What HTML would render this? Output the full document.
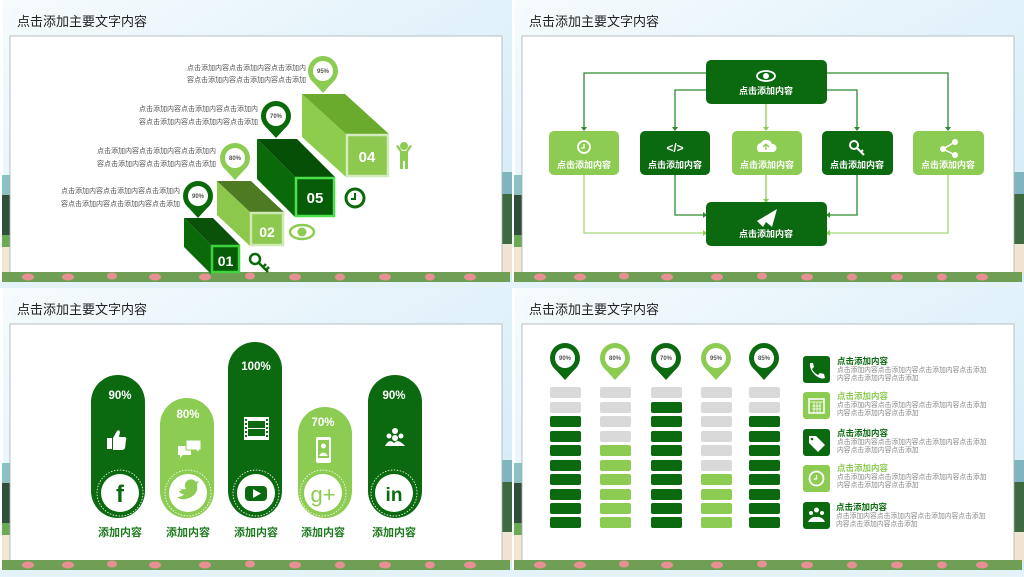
<!DOCTYPE html>
<html><head><meta charset="utf-8"><style>
html,body{margin:0;padding:0;background:#e6f4fb}
svg{display:block}
text{font-family:"Liberation Sans","Noto Sans CJK SC",sans-serif}
</style></head><body>
<svg width="1024" height="577" viewBox="0 0 1024 577" xmlns="http://www.w3.org/2000/svg">
<defs>
<linearGradient id="sky" x1="0" y1="0" x2="1" y2="1">
<stop offset="0" stop-color="#f6fbfd"/><stop offset="0.5" stop-color="#e2f2fa"/><stop offset="1" stop-color="#cfeaf7"/>
</linearGradient>
<g id="bg">
<rect x="0" y="0" width="512" height="288" fill="url(#sky)"/>
<rect x="0" y="0" width="3" height="288" fill="#ffffff"/>
<rect x="2" y="175" width="10" height="20" fill="#8cc3c0"/>
<rect x="2" y="195" width="10" height="40" fill="#2e5038"/>
<rect x="2" y="235" width="10" height="12" fill="#6aaa55"/>
<rect x="2" y="247" width="10" height="28" fill="#f2e6d3"/>
<rect x="501" y="172" width="11" height="22" fill="#80b5c0"/>
<rect x="501" y="194" width="11" height="50" fill="#3d6a40"/>
<rect x="501" y="244" width="11" height="30" fill="#efe4d2"/>
<rect x="10" y="36" width="492" height="238" fill="#ffffff" stroke="#a9b0b3" stroke-width="0.8"/>
<rect x="2" y="272" width="508" height="10" fill="#6f9f55"/>
<g fill="#e88f94">
<ellipse cx="28" cy="277" rx="6" ry="3.5"/><ellipse cx="68" cy="277" rx="6" ry="3.5"/><ellipse cx="112" cy="276" rx="5" ry="3.5"/><ellipse cx="155" cy="277" rx="6" ry="3.5"/><ellipse cx="205" cy="277" rx="6" ry="3.5"/><ellipse cx="250" cy="276" rx="5" ry="3.5"/><ellipse cx="295" cy="277" rx="6" ry="3.5"/><ellipse cx="340" cy="277" rx="5" ry="3.5"/><ellipse cx="385" cy="277" rx="6" ry="3.5"/><ellipse cx="430" cy="277" rx="5" ry="3.5"/><ellipse cx="470" cy="277" rx="6" ry="3.5"/>
</g>
<rect x="0" y="282" width="512" height="6" fill="#e4f3fa"/>
<text x="17" y="26" font-size="13" fill="#222">点击添加主要文字内容</text>
</g>
</defs>

<use href="#bg" x="0" y="0"/><use href="#bg" x="512" y="0"/><use href="#bg" x="0" y="288"/><use href="#bg" x="512" y="288"/>

<!-- PANEL 1 -->
<g>
<polygon points="302,94 346,134 346,177 302,137" fill="#8dcc4d"/>
<polygon points="302,94 345,94 389,134 346,134" fill="#6aab2e"/>
<rect x="347" y="135" width="41" height="41" fill="#8dc84f" stroke="#d3ecbb" stroke-width="2.5"/>
<text x="367" y="162" font-size="15" font-weight="bold" fill="#fff" text-anchor="middle">04</text>

<polygon points="257,139 295,177 295,217 257,179" fill="#0a6a0a"/>
<polygon points="257,139 297,139 335,177 295,177" fill="#064f06"/>
<rect x="296" y="178" width="38" height="38" fill="#075d07" stroke="#4ce04c" stroke-width="2.5"/>
<text x="315" y="203" font-size="15" font-weight="bold" fill="#fff" text-anchor="middle">05</text>

<polygon points="217,181 250,212 250,246 217,215" fill="#8cc84c"/>
<polygon points="217,181 251,181 284,212 250,212" fill="#4d7a22"/>
<rect x="251" y="213" width="32" height="32" fill="#8dc84f" stroke="#cfe9b3" stroke-width="2.5"/>
<text x="267" y="237" font-size="14" font-weight="bold" fill="#fff" text-anchor="middle">02</text>

<polygon points="184,218 211,245 211,274 184,247" fill="#0a6a0a"/>
<polygon points="184,218 213,218 240,245 211,245" fill="#0a520a"/>
<rect x="212" y="246" width="27" height="26" fill="#075d07" stroke="#3fd23f" stroke-width="2.5"/>
<text x="225.5" y="266" font-size="14" font-weight="bold" fill="#fff" text-anchor="middle">01</text>

<g font-size="6" font-weight="bold" fill="#555" text-anchor="middle">
<path d="M312 81 L323 93 L334 81 Z" fill="#8dcc52"/><circle cx="323" cy="71" r="15" fill="#8dcc52"/><circle cx="323" cy="71" r="10" fill="#fff"/><text x="323" y="73">95%</text>
<path d="M265 126 L276 138 L287 126 Z" fill="#0a6a0a"/><circle cx="276" cy="116" r="15" fill="#0a6a0a"/><circle cx="276" cy="116" r="10" fill="#fff"/><text x="276" y="118">70%</text>
<path d="M224 168 L235 180 L246 168 Z" fill="#8dcc52"/><circle cx="235" cy="158" r="15" fill="#8dcc52"/><circle cx="235" cy="158" r="10" fill="#fff"/><text x="235" y="160">80%</text>
<path d="M187 206 L198 218 L209 206 Z" fill="#0a6a0a"/><circle cx="198" cy="196" r="15" fill="#0a6a0a"/><circle cx="198" cy="196" r="10" fill="#fff"/><text x="198" y="198">90%</text>
</g>
<g font-size="7" fill="#555" text-anchor="end">
<text x="306" y="70">点击添加内容点击添加内容点击添加内</text><text x="306" y="82">容点击添加内容点击添加内容点击添加</text>
<text x="258" y="111">点击添加内容点击添加内容点击添加内</text><text x="258" y="124">容点击添加内容点击添加内容点击添加</text>
<text x="216" y="153">点击添加内容点击添加内容点击添加内</text><text x="216" y="166">容点击添加内容点击添加内容点击添加</text>
<text x="180" y="193">点击添加内容点击添加内容点击添加内</text><text x="180" y="206">容点击添加内容点击添加内容点击添加</text>
</g>
<g fill="#8dcc52"><circle cx="404" cy="146" r="4"/><rect x="400" y="151" width="8" height="10"/><rect x="400" y="160" width="3" height="9"/><rect x="405" y="160" width="3" height="9"/><path d="M396 146 L400 152 L402 151 L398 145Z M412 146 L408 152 L406 151 L410 145Z"/></g>
<circle cx="355" cy="198" r="9" fill="none" stroke="#0a6a0a" stroke-width="3"/><path d="M355 193 V199 H351" stroke="#0a6a0a" stroke-width="2" fill="none"/>
<ellipse cx="302" cy="232" rx="12" ry="7" fill="none" stroke="#8dcc52" stroke-width="2.5"/><circle cx="302" cy="232" r="4.5" fill="#8dcc52"/>
<circle cx="255" cy="259" r="5" fill="none" stroke="#0a6a0a" stroke-width="2.5"/><path d="M258 262 L268 272 M263 267 L266 264 M266 270 L269 267" stroke="#0a6a0a" stroke-width="2.5"/>
</g>

<!-- PANEL 2 -->
<g transform="translate(512,0)">
<g fill="none" stroke-width="1.3">
<path d="M194 73 H72 V128" stroke="#2d8a2d"/><path d="M194 90 H163 V128" stroke="#2d8a2d"/>
<path d="M254 104 V128" stroke="#8dcc52"/>
<path d="M315 90 H345 V128" stroke="#2d8a2d"/><path d="M315 73 H436 V128" stroke="#2d8a2d"/>
<path d="M163 175 V215 H192" stroke="#2d8a2d"/><path d="M72 175 V233 H192" stroke="#a6d77a"/>
<path d="M254 175 V200" stroke="#8dcc52"/>
<path d="M345 175 V215 H317" stroke="#2d8a2d"/><path d="M436 175 V233 H317" stroke="#a6d77a"/>
</g>
<g fill="#2d8a2d"><path d="M69 127 L75 127 L72 131Z"/><path d="M160 127 L166 127 L163 131Z"/><path d="M342 127 L348 127 L345 131Z"/><path d="M433 127 L439 127 L436 131Z"/><path d="M191 212 L191 218 L195 215Z"/><path d="M318 212 L318 218 L314 215Z"/></g>
<g fill="#8dcc52"><path d="M251 127 L257 127 L254 131Z"/><path d="M251 199 L257 199 L254 203Z"/><path d="M191 230 L191 236 L195 233Z"/><path d="M318 230 L318 236 L314 233Z"/></g>

<rect x="194" y="60" width="121" height="44" rx="5" fill="#0b6a10"/>
<rect x="194" y="202" width="121" height="44" rx="5" fill="#0b6a10"/>
<rect x="37" y="131" width="70" height="44" rx="5" fill="#8dcc52"/>
<rect x="128" y="131" width="70" height="44" rx="5" fill="#0b6a10"/>
<rect x="220" y="131" width="70" height="44" rx="5" fill="#8dcc52"/>
<rect x="310" y="131" width="71" height="44" rx="5" fill="#0b6a10"/>
<rect x="401" y="131" width="71" height="44" rx="5" fill="#8dcc52"/>
<g font-size="9" font-weight="bold" fill="#fff" text-anchor="middle">
<text x="254" y="94">点击添加内容</text><text x="254" y="237">点击添加内容</text>
<text x="72" y="168">点击添加内容</text><text x="163" y="168">点击添加内容</text><text x="255" y="168">点击添加内容</text><text x="345" y="168">点击添加内容</text><text x="436" y="168">点击添加内容</text>
</g>
<ellipse cx="254" cy="76" rx="9" ry="5" fill="none" stroke="#fff" stroke-width="1.8"/><circle cx="254" cy="76" r="3" fill="#fff"/>
<path d="M245 221 L265 209 L260 227 L254 222 L251 227 Z" fill="#fff"/>
<circle cx="72" cy="147" r="6" fill="none" stroke="#fff" stroke-width="1.8"/><path d="M72 144 V148 H69" stroke="#fff" stroke-width="1.3" fill="none"/>
<text x="163" y="152" font-size="12" font-weight="bold" fill="#fff" text-anchor="middle">&lt;/&gt;</text>
<path d="M247 152 a5 5 0 0 1 2 -9 a6 6 0 0 1 11 1 a4 4 0 0 1 1 8 Z" fill="#fff"/><path d="M254 150 V145 M251 147 L254 144 L257 147" stroke="#8dcc52" stroke-width="1.3" fill="none"/>
<circle cx="342" cy="145" r="4" fill="none" stroke="#fff" stroke-width="2"/><path d="M345 148 L352 155 M349 152 L351 150" stroke="#fff" stroke-width="2"/>
<g fill="#fff"><circle cx="443" cy="142" r="3"/><circle cx="431" cy="149" r="3"/><circle cx="443" cy="155" r="3"/><path d="M431 149 L443 142 M431 149 L443 155" stroke="#fff" stroke-width="1.5"/></g>
</g>

<!-- PANEL 3 -->
<g transform="translate(0,288)">
<g>
<rect x="91" y="87" width="54" height="143" rx="27" fill="#0b6a10"/>
<rect x="160" y="110" width="54" height="120" rx="27" fill="#8dcc52"/>
<rect x="228" y="54" width="54" height="176" rx="27" fill="#0b6a10"/>
<rect x="298" y="119" width="54" height="111" rx="27" fill="#8dcc52"/>
<rect x="368" y="87" width="54" height="143" rx="27" fill="#0b6a10"/>
</g>
<g font-size="11.5" font-weight="bold" fill="#fff" text-anchor="middle">
<text x="120" y="111">90%</text><text x="188" y="130">80%</text><text x="256" y="82">100%</text><text x="323" y="138">70%</text><text x="394" y="111">90%</text>
</g>
<g fill="none" stroke="#fff" stroke-width="0.8" stroke-dasharray="1.5 1.5">
<circle cx="120" cy="205" r="23"/><circle cx="188" cy="205" r="23"/><circle cx="256" cy="205" r="23"/><circle cx="323" cy="205" r="23"/><circle cx="394" cy="205" r="23"/>
</g>
<g fill="#fff"><circle cx="120" cy="205" r="19"/><circle cx="188" cy="205" r="19"/><circle cx="256" cy="205" r="19"/><circle cx="323" cy="205" r="19"/><circle cx="394" cy="205" r="19"/></g>
<text x="120" y="214" font-size="24" font-weight="bold" fill="#0b6a10" text-anchor="middle">f</text>
<path d="M178 199 q4 3 8 2 q-3-5 2-9 q5-2 8 2 l3-1 -2 3 q2 10-8 14 q-7 3-12-1 q5 0 7-3 q-4 0-5-3 q2 0 3-1 q-4-2-4-4z" fill="#8dcc52"/>
<rect x="245" y="198" width="22" height="15" rx="4" fill="#0b6a10"/><path d="M253 201 L261 205.5 L253 210Z" fill="#fff"/>
<text x="323" y="214" font-size="22" fill="#8dcc52" text-anchor="middle" font-family="Liberation Serif,serif">g+</text>
<text x="394" y="213" font-size="19" font-weight="bold" fill="#0b6a10" text-anchor="middle">in</text>
<g font-size="11" font-weight="bold" fill="#1f7a1f" text-anchor="middle">
<text x="120" y="248">添加内容</text><text x="188" y="248">添加内容</text><text x="256" y="248">添加内容</text><text x="323" y="248">添加内容</text><text x="394" y="248">添加内容</text>
</g>
<path d="M107 150 h5 v11 h-5z M113 150 l4-7 q2-2 3 1 l-1 5 h6 q2 1 1 3 l-1 8 q-1 2-3 2 h-9z" fill="#fff"/>
<path d="M178 158 h13 v9 h-8 l-3 3 v-3 h-2z" fill="#fff"/><path d="M186 152 h15 v10 h-2 v3 l-3-3 h-10z" fill="#fff" stroke="#8dcc52" stroke-width="1"/>
<rect x="244" y="129" width="25" height="23" fill="#fff"/><rect x="248" y="133" width="17" height="15" fill="#0b6a10"/><g fill="#0b6a10"><rect x="245" y="131" width="2" height="2"/><rect x="245" y="135" width="2" height="2"/><rect x="245" y="139" width="2" height="2"/><rect x="245" y="143" width="2" height="2"/><rect x="245" y="147" width="2" height="2"/><rect x="266" y="131" width="2" height="2"/><rect x="266" y="135" width="2" height="2"/><rect x="266" y="139" width="2" height="2"/><rect x="266" y="143" width="2" height="2"/><rect x="266" y="147" width="2" height="2"/></g><rect x="248" y="140" width="17" height="1" fill="#fff"/>
<rect x="316" y="149" width="15" height="26" rx="2" fill="#fff"/><rect x="318" y="152" width="11" height="18" fill="#8dcc52"/><circle cx="323.5" cy="158" r="2.5" fill="#fff"/><path d="M319 168 q4-7 9 0z" fill="#fff"/>
<g fill="#fff"><circle cx="395" cy="143" r="3"/><circle cx="389" cy="148" r="2.5"/><circle cx="401" cy="148" r="2.5"/><path d="M385 158 q4-8 9-3 q4-5 11 3 z"/><circle cx="395" cy="150" r="3"/></g>
</g>

<!-- PANEL 4 -->
<g transform="translate(512,288)">
<g fill="#d9d9d9">
<rect x="38" y="99" width="31" height="11" rx="2"/><rect x="38" y="114" width="31" height="11" rx="2"/>
<rect x="88" y="99" width="31" height="11" rx="2"/><rect x="88" y="114" width="31" height="11" rx="2"/><rect x="88" y="128" width="31" height="11" rx="2"/><rect x="88" y="143" width="31" height="11" rx="2"/>
<rect x="139" y="99" width="31" height="11" rx="2"/>
<rect x="189" y="99" width="31" height="11" rx="2"/><rect x="189" y="114" width="31" height="11" rx="2"/><rect x="189" y="128" width="31" height="11" rx="2"/><rect x="189" y="143" width="31" height="11" rx="2"/><rect x="189" y="157" width="31" height="11" rx="2"/><rect x="189" y="172" width="31" height="11" rx="2"/>
<rect x="237" y="99" width="31" height="11" rx="2"/><rect x="237" y="114" width="31" height="11" rx="2"/>
</g>
<g fill="#0b6a10">
<rect x="38" y="128" width="31" height="11" rx="2"/><rect x="38" y="143" width="31" height="11" rx="2"/><rect x="38" y="157" width="31" height="11" rx="2"/><rect x="38" y="172" width="31" height="11" rx="2"/><rect x="38" y="186" width="31" height="11" rx="2"/><rect x="38" y="201" width="31" height="11" rx="2"/><rect x="38" y="215" width="31" height="11" rx="2"/><rect x="38" y="229" width="31" height="11" rx="2"/>
<rect x="139" y="114" width="31" height="11" rx="2"/><rect x="139" y="128" width="31" height="11" rx="2"/><rect x="139" y="143" width="31" height="11" rx="2"/><rect x="139" y="157" width="31" height="11" rx="2"/><rect x="139" y="172" width="31" height="11" rx="2"/><rect x="139" y="186" width="31" height="11" rx="2"/><rect x="139" y="201" width="31" height="11" rx="2"/><rect x="139" y="215" width="31" height="11" rx="2"/><rect x="139" y="229" width="31" height="11" rx="2"/>
<rect x="237" y="128" width="31" height="11" rx="2"/><rect x="237" y="143" width="31" height="11" rx="2"/><rect x="237" y="157" width="31" height="11" rx="2"/><rect x="237" y="172" width="31" height="11" rx="2"/><rect x="237" y="186" width="31" height="11" rx="2"/><rect x="237" y="201" width="31" height="11" rx="2"/><rect x="237" y="215" width="31" height="11" rx="2"/><rect x="237" y="229" width="31" height="11" rx="2"/>
</g>
<g fill="#8dcc52">
<rect x="88" y="157" width="31" height="11" rx="2"/><rect x="88" y="172" width="31" height="11" rx="2"/><rect x="88" y="186" width="31" height="11" rx="2"/><rect x="88" y="201" width="31" height="11" rx="2"/><rect x="88" y="215" width="31" height="11" rx="2"/><rect x="88" y="229" width="31" height="11" rx="2"/>
<rect x="189" y="186" width="31" height="11" rx="2"/><rect x="189" y="201" width="31" height="11" rx="2"/><rect x="189" y="215" width="31" height="11" rx="2"/><rect x="189" y="229" width="31" height="11" rx="2"/>
</g>
<g font-size="6" font-weight="bold" fill="#555" text-anchor="middle">
<path d="M42 80 L53 92 L64 80 Z" fill="#0b6a10"/><circle cx="53" cy="70" r="15" fill="#0b6a10"/><circle cx="53" cy="70" r="10" fill="#fff"/><text x="53" y="72">90%</text>
<path d="M92 80 L103 92 L114 80 Z" fill="#8dcc52"/><circle cx="103" cy="70" r="15" fill="#8dcc52"/><circle cx="103" cy="70" r="10" fill="#fff"/><text x="103" y="72">80%</text>
<path d="M143 80 L154 92 L165 80 Z" fill="#0b6a10"/><circle cx="154" cy="70" r="15" fill="#0b6a10"/><circle cx="154" cy="70" r="10" fill="#fff"/><text x="154" y="72">70%</text>
<path d="M193 80 L204 92 L215 80 Z" fill="#8dcc52"/><circle cx="204" cy="70" r="15" fill="#8dcc52"/><circle cx="204" cy="70" r="10" fill="#fff"/><text x="204" y="72">95%</text>
<path d="M241 80 L252 92 L263 80 Z" fill="#0b6a10"/><circle cx="252" cy="70" r="15" fill="#0b6a10"/><circle cx="252" cy="70" r="10" fill="#fff"/><text x="252" y="72">85%</text>
</g>
<rect x="291" y="68" width="27" height="27" rx="3" fill="#0b6a10"/>
<rect x="291" y="104" width="27" height="27" rx="3" fill="#8dcc52"/>
<rect x="291" y="141" width="27" height="27" rx="3" fill="#0b6a10"/>
<rect x="291" y="177" width="27" height="27" rx="3" fill="#8dcc52"/>
<rect x="291" y="214" width="27" height="27" rx="3" fill="#0b6a10"/>
<path d="M298 75 q-1 6 5 12 q6 5 10 3 l-1-4 -4-1 -2 2 q-4-2-6-6 l2-2 -1-4z" fill="#fff"/>
<rect x="297" y="111" width="15" height="14" fill="none" stroke="#fff" stroke-width="1.5"/><path d="M297 114 h15 M300 118 h9 M300 121 h9 M302 114 v11 M305 114 v11 M308 114 v11" stroke="#fff" stroke-width="0.8"/>
<path d="M297 148 h7 l9 9 -7 7 -9-9z" fill="#fff"/><circle cx="300" cy="151" r="1.3" fill="#0b6a10"/>
<circle cx="304.5" cy="190.5" r="7" fill="none" stroke="#fff" stroke-width="1.8"/><path d="M304.5 187 V191 H301.5" stroke="#fff" stroke-width="1.3" fill="none"/>
<g fill="#fff"><circle cx="304.5" cy="222" r="2.5"/><circle cx="299" cy="225" r="2"/><circle cx="310" cy="225" r="2"/><path d="M296 234 q3-6 8.5-5 q5.5-1 8.5 5z"/></g>
<g font-size="8.5" font-weight="bold">
<text x="325" y="76" fill="#0b6a10">点击添加内容</text>
<text x="325" y="111" fill="#8dcc52">点击添加内容</text>
<text x="325" y="148" fill="#0b6a10">点击添加内容</text>
<text x="325" y="183" fill="#8dcc52">点击添加内容</text>
<text x="324" y="222" fill="#0b6a10">点击添加内容</text>
</g>
<g font-size="6.8" fill="#888">
<text x="325" y="84">点击添加内容点击添加内容点击添加内容点击添加</text><text x="325" y="92">内容点击添加内容点击添加</text>
<text x="325" y="119">点击添加内容点击添加内容点击添加内容点击添加</text><text x="325" y="127">内容点击添加内容点击添加</text>
<text x="325" y="156">点击添加内容点击添加内容点击添加内容点击添加</text><text x="325" y="164">内容点击添加内容点击添加</text>
<text x="325" y="191">点击添加内容点击添加内容点击添加内容点击添加</text><text x="325" y="199">内容点击添加内容点击添加</text>
<text x="324" y="230">点击添加内容点击添加内容点击添加内容点击添加</text><text x="324" y="238">内容点击添加内容点击添加</text>
</g>
</g>
</svg>
</body></html>
